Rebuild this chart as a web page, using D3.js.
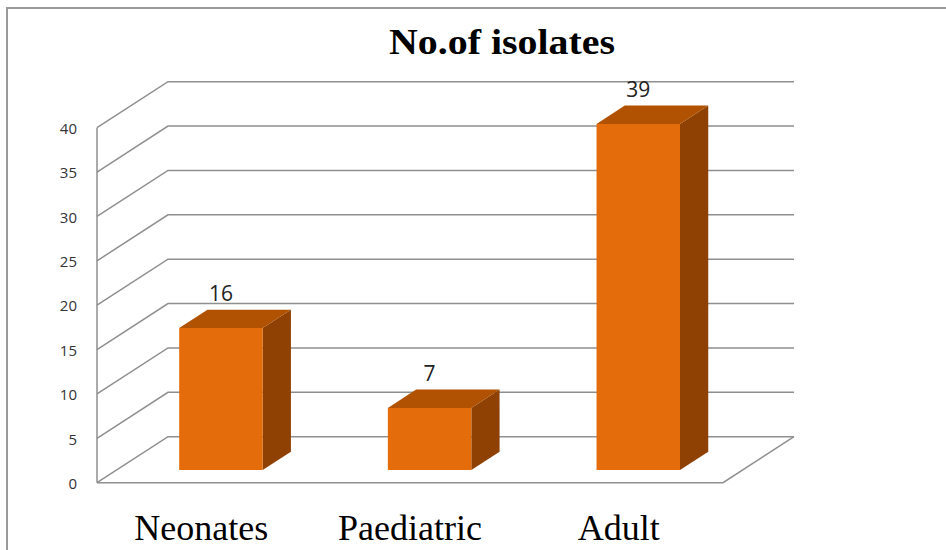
<!DOCTYPE html>
<html>
<head>
<meta charset="utf-8">
<script src="https://cdn.jsdelivr.net/npm/d3@7/dist/d3.min.js"></script>
<style>
  html, body { margin: 0; padding: 0; background: #fff; }
  svg { display: block; }
</style>
</head>
<body>
<svg id="chart" width="946" height="550"></svg>
<script>
/* ── Data ─────────────────────────────────────────────── */
const categories = ["Neonates", "Paediatric", "Adult"];
const values     = [16, 7, 39];
const yTicks     = [0, 5, 10, 15, 20, 25, 30, 35, 40];
const title      = "No.of isolates";

/* ── 3D geometry (Excel-style wall / floor) ───────────── */
const DEPTH_X = 71;     /* back wall shift right */
const DEPTH_Y = 46;     /* back wall shift up */
const BAR_F0  = 0.276;  /* bar front, as fraction of depth */
const BAR_F1  = 0.674;  /* bar back */

const COL_FRONT = "#e46c0a";
const COL_TOP   = "#b05202";
const COL_SIDE  = "#8e4103";
const GRID      = "#8f8f8f";

const svg = d3.select("#chart");

const x = d3.scaleBand()
  .domain(categories)
  .range([97, 723])
  .paddingInner(0.6)
  .paddingOuter(0.3);

const y = d3.scaleLinear().domain([0, 40]).range([482.7, 127.7]);

/* point in the 3D box: front-plane x, value, depth fraction */
const P = (xf, v, f) => [xf + f * DEPTH_X, y(v) - f * DEPTH_Y];
const line = d3.line();

/* frame */
svg.append("path")
  .attr("d", "M7,551V8H947")
  .attr("fill", "none")
  .attr("stroke", "#9a9a9a")
  .attr("stroke-width", 2);

/* title */
svg.append("text")
  .attr("x", 502).attr("y", 54)
  .attr("text-anchor", "middle")
  .attr("font-family", "'Liberation Serif', 'Times New Roman', serif")
  .attr("font-weight", "bold")
  .attr("font-size", 35)
  .attr("textLength", 226)
  .attr("lengthAdjust", "spacingAndGlyphs")
  .attr("fill", "#000")
  .text(title);

/* ── Walls and gridlines ──────────────────────────────── */
const x0 = x.range()[0], x1 = x.range()[1];
const gridG = svg.append("g")
  .attr("fill", "none")
  .attr("stroke", GRID)
  .attr("stroke-width", 1.5);

yTicks.forEach(t => {
  /* left wall diagonal + back wall line */
  gridG.append("path")
    .attr("d", line([P(x0, t, 0), P(x0, t, 1), P(x1, t, 1)]));
});

/* left wall front edge */
gridG.append("path")
  .attr("d", line([P(x0, 0, 0), P(x0, d3.max(yTicks), 0)]));

/* floor front + right edge */
gridG.append("path")
  .attr("d", line([P(x0, 0, 0), P(x1, 0, 0), P(x1, 0, 1)]));

/* tick labels */
svg.append("g")
  .selectAll("text")
  .data(yTicks)
  .join("text")
  .attr("x", 77)
  .attr("y", d => y(d) + 1)
  .attr("dy", "0.35em")
  .attr("text-anchor", "end")
  .attr("font-family", "'Open Sans', sans-serif")
  .attr("font-size", 15)
  .attr("fill", "#333")
  .text(d => d);

/* ── Bars ─────────────────────────────────────────────── */
const bw = x.bandwidth();
const barG = svg.append("g");

categories.forEach((c, i) => {
  const v  = values[i];
  const xl = x(c), xr = x(c) + bw;
  const g  = barG.append("g");

  /* right side */
  g.append("path")
    .attr("d", line([P(xr, 0, BAR_F0), P(xr, 0, BAR_F1), P(xr, v, BAR_F1), P(xr, v, BAR_F0)]) + "Z")
    .attr("fill", COL_SIDE);

  /* top */
  g.append("path")
    .attr("d", line([P(xl, v, BAR_F0), P(xl, v, BAR_F1), P(xr, v, BAR_F1), P(xr, v, BAR_F0)]) + "Z")
    .attr("fill", COL_TOP);

  /* front */
  g.append("path")
    .attr("d", line([P(xl, 0, BAR_F0), P(xr, 0, BAR_F0), P(xr, v, BAR_F0), P(xl, v, BAR_F0)]) + "Z")
    .attr("fill", COL_FRONT);

  /* value label */
  const top = P(xl + bw / 2, v, BAR_F0);
  g.append("text")
    .attr("x", top[0])
    .attr("y", top[1] - 27)
    .attr("text-anchor", "middle")
    .attr("font-family", "'Open Sans', sans-serif")
    .attr("font-size", 21)
    .attr("fill", "#222")
    .text(v);
});

/* category labels, centred on the front band */
svg.append("g")
  .selectAll("text")
  .data(categories)
  .join("text")
  .attr("x", d => x(d) + bw / 2)
  .attr("y", 540)
  .attr("text-anchor", "middle")
  .attr("font-family", "'Liberation Serif', 'Times New Roman', serif")
  .attr("font-size", 36)
  .attr("fill", "#000")
  .text(d => d);
</script>
</body>
</html>
